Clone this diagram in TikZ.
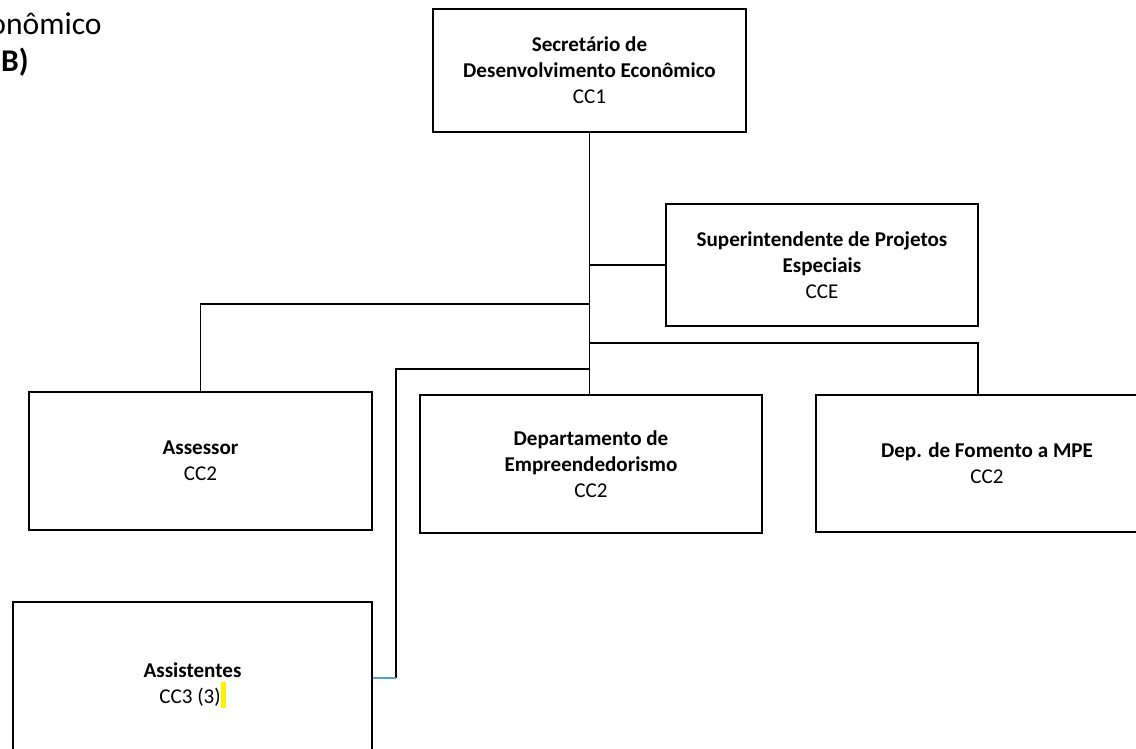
\documentclass[tikz,border=0pt]{standalone}
\usepackage{fontspec}
\setmainfont{Carlito}
\usepackage{tikz}
\usetikzlibrary{calc}
\definecolor{linkblue}{RGB}{91,155,213}

\begin{document}
\begin{tikzpicture}[x=0.02cm,y=-0.02cm,
    box/.style 2 args={draw,line width=1.2pt,align=center,minimum width=#1*0.02cm,minimum height=#2*0.02cm,font=\fontsize{12}{14.8}\selectfont},
    link/.style={line width=0.6pt},
    head/.style={anchor=base east,inner sep=0pt,font=\fontsize{18}{22}\selectfont}]
    \useasboundingbox (0,0) rectangle (1136,749);
    \clip (0,0) rectangle (1136,749);
    \node[head] (hdr) at (102,35) {onômico};
    \node[head,font=\fontsize{18}{22}\selectfont\bfseries] (hdrb) at (29,72) {-B)};
    \node[box={313}{123}] (sec) at (589.5,70.5) {\textbf{Secretário de}\\\textbf{Desenvolvimento Econômico}\\CC1};
    \node[box={312}{122}] (sup) at (822,265) {\textbf{Superintendente de Projetos}\\\textbf{Especiais}\\CCE};
    \node[box={343}{138}] (ass) at (200.5,461) {\textbf{Assessor}\\CC2};
    \node[box={342}{138}] (dep) at (591,464) {\textbf{Departamento de}\\\textbf{Empreendedorismo}\\CC2};
    \node[box={342}{137}] (fom) at (987,463.5) {\textbf{Dep. de Fomento a MPE}\\CC2};
    \node[box={359}{167}] (ast) at (192.5,685.5) {\textbf{Assistentes}\\CC3 (3)\textcolor{yellow}{\rule[-2.6pt]{2.8pt}{14.8pt}}};
    \coordinate (jass) at (590,304);
    \coordinate (jfom) at (590,343);
    \coordinate (jast) at (590,369);
    \coordinate (elb) at (396,678);
    \draw[link] (sec.south) -- (sec.south |- dep.north);
    \draw[link] (sec.south |- sup.west) -- (sup.west);
    \draw[link] (jass) -| (ass.north);
    \draw[link] (jfom) -| ([xshift=-0.18cm]fom.north);
    \draw[link] (jast) -| (elb);
    \draw[link,linkblue] (elb) -- (elb -| ast.east);
\end{tikzpicture}
\end{document}
